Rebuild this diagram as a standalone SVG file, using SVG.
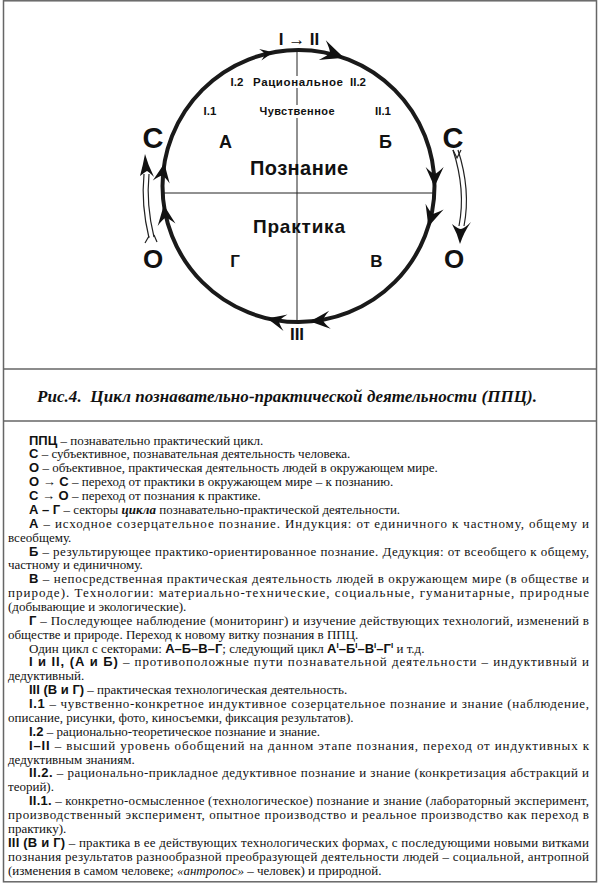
<svg xmlns="http://www.w3.org/2000/svg" xmlns:xlink="http://www.w3.org/1999/xlink" width="600" height="884" viewBox="0 0 600 884">
<style>
.lbl{font-family:"Liberation Sans",Arial,sans-serif;font-weight:bold;fill:#111}
.t{font-family:"Liberation Serif","Times New Roman",serif;font-size:13px;fill:#111}
.b{font-family:"Liberation Sans",Arial,sans-serif;font-weight:bold}
.bi{font-weight:bold;font-style:italic}
.i{font-style:italic}
.thin{stroke:#222;stroke-width:1;fill:none}
.dbl{stroke:#222;stroke-width:1.2;fill:none}
.frame{stroke:#666;stroke-width:1.5;fill:none}
</style>
<defs>
<path id="ah" d="M0,0 Q-8,-3.5 -20,-9 Q-14,-3 -13,0 Q-14,3 -20,9 Q-8,3.5 0,0 Z" fill="#111"/>
</defs>
<rect width="600" height="884" fill="#fff"/>
<g id="frame">
<rect class="frame" x="3.5" y="0.8" width="593" height="881"/>
<line class="frame" x1="3.5" y1="369" x2="596.5" y2="369"/>
<line class="frame" x1="3.5" y1="421" x2="596.5" y2="421"/>
</g>
<g id="axes">
<line class="thin" x1="297" y1="52" x2="297" y2="76"/>
<line class="thin" x1="297" y1="88" x2="297" y2="105"/>
<line class="thin" x1="297" y1="118" x2="297" y2="322"/>
<line class="thin" x1="162" y1="193" x2="435" y2="193"/>
</g>
<g id="connectors">
<circle cx="298.5" cy="186" r="136" fill="none" stroke="#1a1a1a" stroke-width="4"/>
<use href="#ah" transform="translate(273,52.4) rotate(-10.8) scale(0.65)"/>
<use href="#ah" transform="translate(344,57.8) rotate(19.5) scale(1.15)"/>
<use href="#ah" transform="translate(434.5,187) rotate(90.4)"/>
<use href="#ah" transform="translate(428.3,226.7) rotate(107.4) scale(1.05)"/>
<use href="#ah" transform="translate(310,321.5) rotate(175.1)"/>
<use href="#ah" transform="translate(267,318.3) rotate(193.4) scale(0.95)"/>
<use href="#ah" transform="translate(164.4,163.3) rotate(-80.4) scale(0.95)"/>
<use href="#ah" transform="translate(163.8,205) rotate(-98) scale(1.0)"/>
<g id="arrow-O-C">
<path class="dbl" d="M149,238 Q141,205 144,174"/>
<path class="dbl" d="M154,237 Q146,205 149,174"/>
<path d="M145,154 Q148,165 154,177 Q149,172 147,171 Q145,172 140,176 Q143,165 145,154 Z" fill="#111"/>
<path class="dbl" d="M149,236 L145,243 M154,235 L157,242"/>
</g>
<g id="arrow-C-O">
<path class="dbl" d="M453,150 Q466,190 459,226"/>
<path class="dbl" d="M458,150 Q471,190 464,226"/>
<path class="dbl" d="M453,150 L457,158 L461,150"/>
<path d="M460,244 Q457,233 452,224 Q458,229 461,229 Q465,228 471,222 Q464,232 460,244 Z" fill="#111"/>
</g>
</g>
<g id="node-I-II"><text class="lbl" x="299" y="45" font-size="17" text-anchor="middle">I → II</text></g>
<g id="node-I2"><text class="lbl" x="237" y="86" font-size="11.5" text-anchor="middle">I.2</text></g>
<g id="node-rational"><text class="lbl" x="298" y="86" font-size="11.5" text-anchor="middle" textLength="90">Рациональное</text></g>
<g id="node-II2"><text class="lbl" x="358" y="86" font-size="11.5" text-anchor="middle">II.2</text></g>
<g id="node-I1"><text class="lbl" x="210" y="115" font-size="11.5" text-anchor="middle">I.1</text></g>
<g id="node-sensual"><text class="lbl" x="297" y="115" font-size="11" text-anchor="middle" textLength="75">Чувственное</text></g>
<g id="node-II1"><text class="lbl" x="383" y="115" font-size="11.5" text-anchor="middle">II.1</text></g>
<g id="node-C-left"><text class="lbl" x="153" y="148" font-size="29" text-anchor="middle">С</text></g>
<g id="node-C-right"><text class="lbl" x="453" y="148" font-size="29" text-anchor="middle">С</text></g>
<g id="node-A"><text class="lbl" x="225.5" y="148" font-size="18" text-anchor="middle">А</text></g>
<g id="node-B"><text class="lbl" x="385.5" y="148" font-size="18" text-anchor="middle">Б</text></g>
<g id="node-poznanie"><text class="lbl" x="299" y="175" font-size="20" text-anchor="middle" textLength="98">Познание</text></g>
<g id="node-praktika"><text class="lbl" x="299" y="233" font-size="19" text-anchor="middle" textLength="92">Практика</text></g>
<g id="node-O-left"><text class="lbl" x="153" y="268" font-size="26" text-anchor="middle">О</text></g>
<g id="node-O-right"><text class="lbl" x="454" y="268" font-size="26" text-anchor="middle">О</text></g>
<g id="node-G"><text class="lbl" x="235" y="267" font-size="17" text-anchor="middle">Г</text></g>
<g id="node-V"><text class="lbl" x="376.5" y="267" font-size="17" text-anchor="middle">В</text></g>
<g id="node-III"><text class="lbl" x="297" y="340" font-size="17" text-anchor="middle">III</text></g>
<g id="caption"><text x="287" y="402" text-anchor="middle" font-family="'Liberation Serif','Times New Roman',serif" font-weight="bold" font-style="italic" font-size="17" fill="#111" textLength="500">Рис.4.&#160; Цикл познавательно-практической деятельности (ППЦ).</text></g>
<g id="legend" class="t">
<text x="29" y="444.5"><tspan class="b">ППЦ</tspan> – познавательно практический цикл.</text>
<text x="29" y="458.4"><tspan class="b">С</tspan> – субъективное, познавательная деятельность человека.</text>
<text x="29" y="472.2"><tspan class="b">О</tspan> – объективное, практическая деятельность людей в окружающем мире.</text>
<text x="29" y="486.1"><tspan class="b">О → С</tspan> – переход от практики в окружающем мире – к познанию.</text>
<text x="29" y="500"><tspan class="b">С → О</tspan> – переход от познания к практике.</text>
<text x="29" y="513.9"><tspan class="b">А – Г</tspan> – секторы <tspan class="bi">цикла</tspan> познавательно-практической деятельности.</text>
<text x="29" y="527.7" textLength="560" lengthAdjust="spacing"><tspan class="b">А</tspan> – исходное созерцательное познание. Индукция: от единичного к частному, общему и</text>
<text x="8" y="541.6">всеобщему.</text>
<text x="29" y="555.5" textLength="560" lengthAdjust="spacing"><tspan class="b">Б</tspan> – результирующее практико-ориентированное познание. Дедукция: от всеобщего к общему,</text>
<text x="8" y="569.3">частному и единичному.</text>
<text x="29" y="583.2" textLength="560" lengthAdjust="spacing"><tspan class="b">В</tspan> – непосредственная практическая деятельность людей в окружающем мире (в обществе и</text>
<text x="8" y="597.1" textLength="581" lengthAdjust="spacing">природе). Технологии: материально-технические, социальные, гуманитарные, природные</text>
<text x="8" y="611">(добывающие и экологические).</text>
<text x="29" y="624.8" textLength="560" lengthAdjust="spacing"><tspan class="b">Г</tspan> – Последующее наблюдение (мониторинг) и изучение действующих технологий, изменений в</text>
<text x="8" y="638.7">обществе и природе. Переход к новому витку познания в ППЦ.</text>
<text x="29" y="652.6">Один цикл с секторами: <tspan class="b">А–Б–В–Г</tspan>; следующий цикл <tspan class="b">А<tspan font-size="8" dy="-5">I</tspan><tspan dy="5">–Б</tspan><tspan font-size="8" dy="-5">I</tspan><tspan dy="5">–В</tspan><tspan font-size="8" dy="-5">I</tspan><tspan dy="5">–Г</tspan><tspan font-size="8" dy="-5">I</tspan></tspan><tspan dy="5"> и т.д.</tspan></text>
<text x="29" y="666.4" textLength="560" lengthAdjust="spacing"><tspan class="b">I и II, (А и Б)</tspan> – противоположные пути познавательной деятельности – индуктивный и</text>
<text x="8" y="680.3">дедуктивный.</text>
<text x="29" y="694.2"><tspan class="b">III (В и Г)</tspan> – практическая технологическая деятельность.</text>
<text x="29" y="708" textLength="560" lengthAdjust="spacing"><tspan class="b">I.1</tspan> – чувственно-конкретное индуктивное созерцательное познание и знание (наблюдение,</text>
<text x="8" y="721.9">описание, рисунки, фото, киносъемки, фиксация результатов).</text>
<text x="29" y="735.8"><tspan class="b">I.2</tspan> – рационально-теоретическое познание и знание.</text>
<text x="29" y="749.6" textLength="560" lengthAdjust="spacing"><tspan class="b">I–II</tspan> – высший уровень обобщений на данном этапе познания, переход от индуктивных к</text>
<text x="8" y="763.5">дедуктивным знаниям.</text>
<text x="29" y="777.4" textLength="560" lengthAdjust="spacing"><tspan class="b">II.2.</tspan> – рационально-прикладное дедуктивное познание и знание (конкретизация абстракций и</text>
<text x="8" y="791.3">теорий).</text>
<text x="29" y="805.1" textLength="560" lengthAdjust="spacing"><tspan class="b">II.1.</tspan> – конкретно-осмысленное (технологическое) познание и знание (лабораторный эксперимент,</text>
<text x="8" y="819" textLength="581" lengthAdjust="spacing">производственный эксперимент, опытное производство и реальное производство как переход в</text>
<text x="8" y="832.9">практику).</text>
<text x="8" y="846.7" textLength="581" lengthAdjust="spacing"><tspan class="b">III (В и Г)</tspan> – практика в ее действующих технологических формах, с последующими новыми витками</text>
<text x="8" y="860.6" textLength="581" lengthAdjust="spacing">познания результатов разнообразной преобразующей деятельности людей – социальной, антропной</text>
<text x="8" y="874.5">(изменения в самом человеке; <tspan class="i">«антропос»</tspan> – человек) и природной.</text>
</g>
</svg>
